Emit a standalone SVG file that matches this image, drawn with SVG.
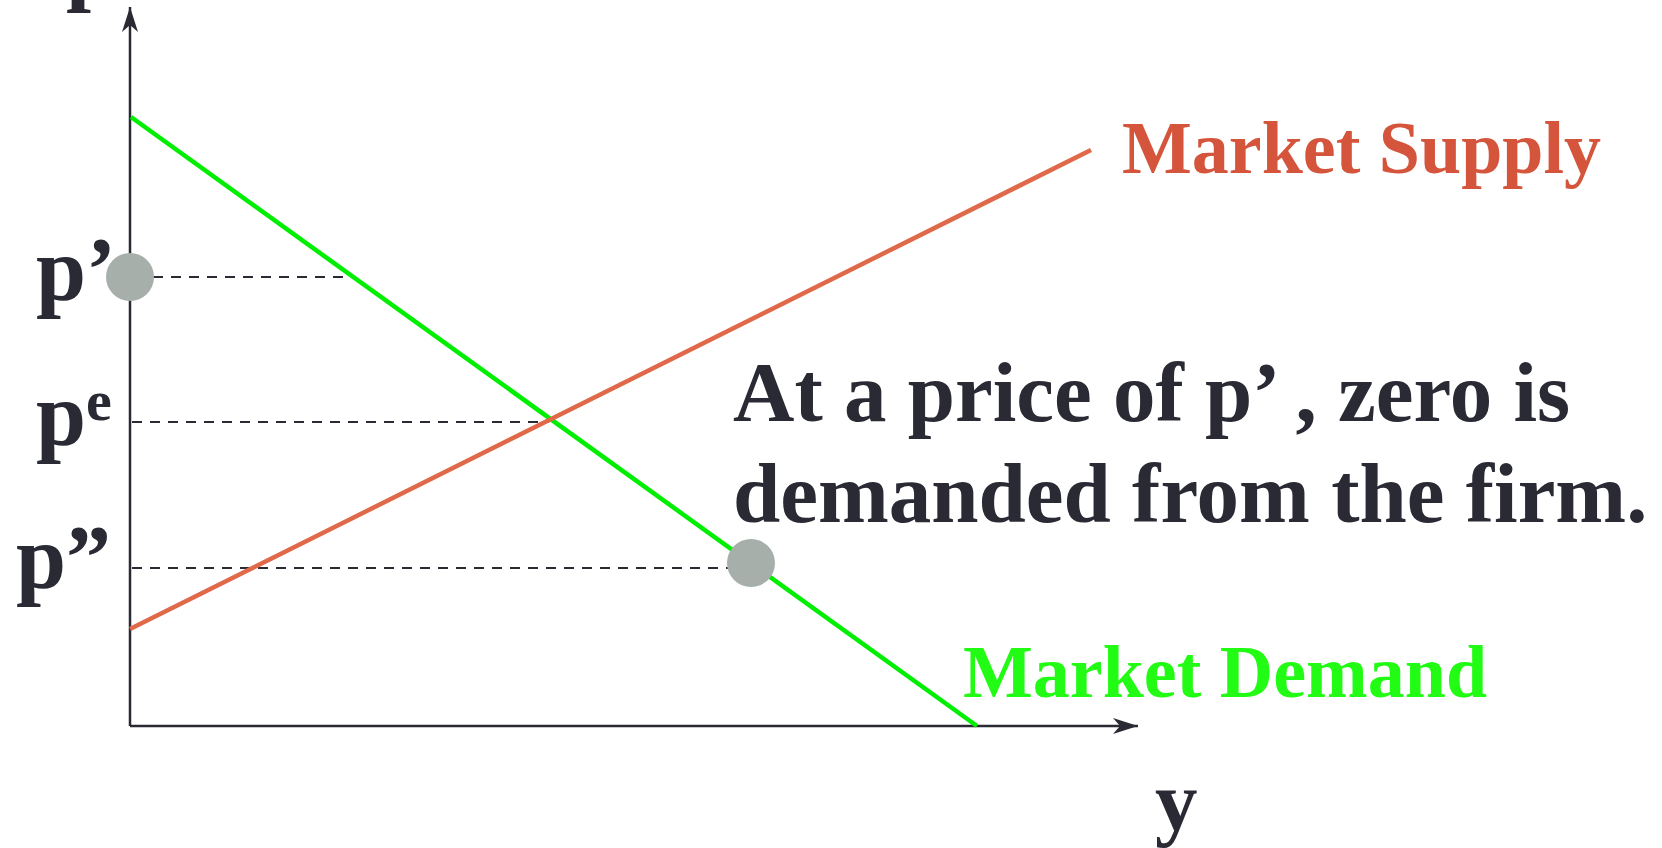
<svg xmlns="http://www.w3.org/2000/svg" width="1662" height="848" viewBox="0 0 1662 848">
<style>
.lbl{font-family:"Liberation Serif","Times New Roman",serif;font-weight:bold;fill:#2a2a35}
.axis{stroke:#2a2a35;stroke-width:2.5;fill:none}
.dash{stroke:#2a2a35;stroke-width:2.2;stroke-dasharray:10,8;fill:none}
.dot{fill:#a6afa9}
</style>
<defs>
<marker id="arr" viewBox="0 0 25 16" refX="25" refY="8" markerWidth="25" markerHeight="16" markerUnits="userSpaceOnUse" orient="auto">
<path d="M0,0 L25,8 L0,16 L7,8 Z" fill="#2a2a35"/>
</marker>
</defs>
<rect width="1662" height="848" fill="#ffffff"/>
<g id="connectors">
<line class="axis" x1="130" y1="726" x2="130" y2="7" marker-end="url(#arr)"/>
<line class="axis" x1="130" y1="726" x2="1138" y2="726" marker-end="url(#arr)"/>
<line class="dash" x1="153" y1="277" x2="350" y2="277"/>
<line class="dash" x1="132" y1="422" x2="549" y2="422"/>
<line class="dash" x1="132" y1="568" x2="735" y2="568"/>
<line id="demand" x1="131" y1="117" x2="977" y2="726" stroke="#00ee00" stroke-width="4.5"/>
<line id="supply" x1="130" y1="629" x2="1091" y2="150" stroke="#e0694a" stroke-width="4.5"/>
</g>
<g id="dot-pprime"><circle class="dot" cx="130" cy="277" r="24"/></g>
<g id="dot-pdouble"><circle class="dot" cx="751" cy="563" r="24"/></g>
<g id="label-p"><text class="lbl" x="66" y="-6" font-size="90">p</text></g>
<g id="label-pprime"><text class="lbl" x="36" y="300" font-size="90">p’</text></g>
<g id="label-pe"><text class="lbl" x="36" y="445" font-size="90">p<tspan font-size="58" dy="-25">e</tspan></text></g>
<g id="label-pdouble"><text class="lbl" x="16" y="588" font-size="90">p”</text></g>
<g id="label-y"><text class="lbl" x="1155" y="830" font-size="85">y</text></g>
<g id="label-supply"><text class="lbl" x="1122" y="173" font-size="74" style="fill:#d4553c">Market Supply</text></g>
<g id="label-demand"><text class="lbl" x="963" y="697" font-size="74" style="fill:#22fc14">Market Demand</text></g>
<g id="note">
<text class="lbl" x="733" y="421" font-size="85">At a price of p’ , zero is</text>
<text class="lbl" x="733" y="522" font-size="85">demanded from the firm.</text>
</g>
</svg>
